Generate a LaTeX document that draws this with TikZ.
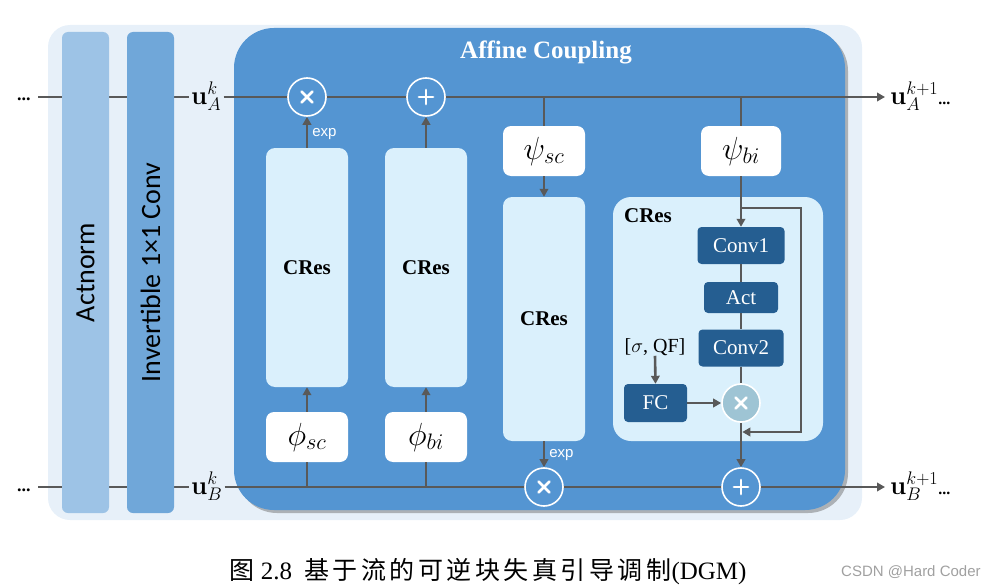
\RequirePackage{fix-cm}
\documentclass[tikz,border=0pt]{standalone}
\usepackage[no-math]{fontspec}
\setmainfont{Liberation Serif}
\newfontfamily\barfont{Carlito}
\newfontfamily\smallsans{Liberation Sans}
\newfontfamily\cjk[LetterSpace=14]{Noto Sans CJK SC}
\usetikzlibrary{arrows.meta,shadows}
\definecolor{panelbg}{HTML}{E7F0F9}
\definecolor{actc}{HTML}{9DC3E6}
\definecolor{invc}{HTML}{70A7D9}
\definecolor{affc}{HTML}{5495D2}
\definecolor{lightb}{HTML}{DAF0FC}
\definecolor{darkb}{HTML}{255E91}
\definecolor{lnc}{HTML}{595959}
\definecolor{smallc}{HTML}{9EC4D4}
\definecolor{wmc}{HTML}{A0A0A0}
\begin{document}
\begin{tikzpicture}[x=1pt,y=-1pt,
  line/.style={draw=lnc, line width=2.6pt},
  arr/.style={line, -{Triangle[length=8pt,width=8.5pt]}},
  bar/.style={rotate=90, rounded corners=6pt, inner sep=0, minimum width=481pt, minimum height=47pt,
    font=\barfont\fontsize{28}{30}\selectfont},
  lightbox/.style={fill=lightb, rounded corners=9pt, inner sep=0, minimum width=82pt,
    font=\bfseries\fontsize{21}{22}\selectfont},
  whitebox/.style={fill=white, rounded corners=8pt, inner sep=0, minimum width=82pt, minimum height=50pt,
    font=\fontsize{32}{34}\selectfont},
  darkbox/.style={fill=darkb, rounded corners=4pt, inner sep=0, text=white, font=\fontsize{21}{22}\selectfont},
  opbase/.style={circle, draw=white, line width=1.6pt, fill=affc, minimum size=38pt, inner sep=0},
  timesop/.style={opbase, path picture={\draw[white,line width=2.8pt,line cap=round]
      ([shift={(-5.5pt,-5.5pt)}]path picture bounding box.center) -- ([shift={(5.5pt,5.5pt)}]path picture bounding box.center)
      ([shift={(-5.5pt,5.5pt)}]path picture bounding box.center) -- ([shift={(5.5pt,-5.5pt)}]path picture bounding box.center);}},
  plusop/.style={opbase, path picture={\draw[white,line width=2.8pt,line cap=round]
      ([shift={(-7pt,0pt)}]path picture bounding box.center) -- ([shift={(7pt,0pt)}]path picture bounding box.center)
      ([shift={(0pt,-7pt)}]path picture bounding box.center) -- ([shift={(0pt,7pt)}]path picture bounding box.center);}},
  explabel/.style={text=white, font=\smallsans\fontsize{15}{16}\selectfont, inner sep=0},
  ulabel/.style={inner sep=0, font=\fontsize{26}{28}\selectfont},
]
\useasboundingbox (0,0) rectangle (997,586);
% background panel
\node[fill=panelbg, rounded corners=22pt, minimum width=814pt, minimum height=495pt, inner sep=0] (panel) at (455,272.5) {};
\coordinate (topy) at (0,97);
\coordinate (boty) at (0,487);
% left dots and labels
\node[anchor=base west, inner sep=0, font=\bfseries\fontsize{18}{18}\selectfont] (dA) at (17,101) {...};
\node[anchor=base west, inner sep=0, font=\bfseries\fontsize{18}{18}\selectfont] (dB) at (17,491) {...};
\node[ulabel, anchor=base west] (uA) at (191,104) {$\mathbf{u}_A^k$};
\node[ulabel, anchor=base west] (uB) at (191,494) {$\mathbf{u}_B^k$};
\coordinate (lA) at (38,97);
\coordinate (lB) at (38,487);
\draw[line] (lA) -- ([xshift=-2pt]uA.west |- topy);
\draw[line] (lB) -- ([xshift=-2pt]uB.west |- boty);
% bars
\node[bar, fill=actc] (actn) at (85.5,272.5) {Actnorm};
\node[bar, fill=invc] (inv) at (150.5,272.5) {Invertible 1\texttimes 1 Conv};
% affine coupling box
\node[fill=affc, rounded corners=40pt, minimum width=611pt, minimum height=482pt, inner sep=0,
  drop shadow={shadow xshift=3pt, shadow yshift=-3pt, opacity=0.45, fill=black!60}] (aff) at (539.5,269) {};
\node[text=white, font=\bfseries\fontsize{25}{26}\selectfont, inner sep=0] (title) at (546,52) {Affine Coupling};
% right labels
\node[ulabel, anchor=base west] (uA1) at (890,104) {$\mathbf{u}_A^{k+1}$\textbf{\fontsize{16}{16}\selectfont...}};
\node[ulabel, anchor=base west] (uB1) at (890,494) {$\mathbf{u}_B^{k+1}$\textbf{\fontsize{16}{16}\selectfont...}};
% main lines
\draw[arr] ([xshift=2pt]uA.east |- topy) -- ([xshift=-5pt]uA1.west |- topy);
\draw[arr] ([xshift=2pt]uB.east |- boty) -- ([xshift=-5pt]uB1.west |- boty);
% boxes
\node[lightbox, minimum height=239pt] (cres1) at (307,267.5) {CRes};
\node[lightbox, minimum height=239pt] (cres2) at (426,267.5) {CRes};
\node[whitebox] (phisc) at (307,437) {$\phi_{sc}$};
\node[whitebox] (phibi) at (426,437) {$\phi_{bi}$};
\node[whitebox] (psisc) at (544,151) {$\psi_{sc}$};
\node[whitebox, minimum width=80pt] (psibi) at (741,151) {$\psi_{bi}$};
\node[lightbox, minimum height=244pt] (cres3) at (544,319) {CRes};
\node[fill=lightb, rounded corners=18pt, minimum width=210pt, minimum height=244pt, inner sep=0] (crespanel) at (718,319) {};
\node[font=\bfseries\fontsize{21}{22}\selectfont, inner sep=0] (creslabel) at (648,216) {CRes};
\node[darkbox, minimum width=87pt, minimum height=37pt] (conv1) at (741,245.5) {Conv1};
\node[darkbox, minimum width=74pt, minimum height=31pt] (act) at (741,297.5) {Act};
\node[darkbox, minimum width=85pt, minimum height=37pt] (conv2) at (741,348) {Conv2};
\node[darkbox, minimum width=63pt, minimum height=38pt] (fc) at (655.5,403) {FC};
\node[inner sep=0, font=\fontsize{20}{22}\selectfont] (sig) at (655,347) {[$\sigma$, QF]};
% connectors
\draw[line] (phisc.south) -- (phisc.south |- boty);
\draw[line] (phibi.south) -- (phibi.south |- boty);
\draw[line] (psisc.north) -- (psisc.north |- topy);
\draw[line] (psibi.north) -- (psibi.north |- topy);
\draw[arr] (phisc.north) -- (cres1.south);
\draw[arr] (phibi.north) -- (cres2.south);
\draw[arr] (psisc.south) -- (cres3.north);
\draw[line] (conv1.south) -- (act.north);
\draw[line] (act.south) -- (conv2.north);
% operators
\node[timesop] (xA) at (307,97) {};
\node[plusop] (pA) at (426,97) {};
\node[timesop] (xB) at (544,487) {};
\node[plusop] (pB) at (741,487) {};
\node[circle, draw=white, line width=1.6pt, fill=smallc, minimum size=38pt, inner sep=0,
  path picture={\draw[white,line width=2.8pt,line cap=round]
      ([shift={(-5.5pt,-5.5pt)}]path picture bounding box.center) -- ([shift={(5.5pt,5.5pt)}]path picture bounding box.center)
      ([shift={(-5.5pt,5.5pt)}]path picture bounding box.center) -- ([shift={(5.5pt,-5.5pt)}]path picture bounding box.center);}] (xs) at (741,403) {};
\draw[line] (conv2.south) -- (xs.north);
\draw[arr] (cres1.north) -- (xA.south) node[explabel, pos=0.45, right=4pt] (exp1) {exp};
\draw[arr] (cres3.south) -- (xB.north) node[explabel, pos=0.55, right=4pt] (exp2) {exp};
\draw[arr] (cres2.north) -- (pA.south);
\draw[arr] (psibi.south) -- (conv1.north);
\draw[arr] (xs.south) -- (pB.north);
\draw[arr] (fc.east) -- (xs.west);
\draw[arr] (sig.south) -- (fc.north);
\coordinate (sk0) at (741,208);
\coordinate (sk1) at (801,208);
\coordinate (sk2) at (801,432);
\coordinate (sk3) at (742.3,432);
\draw[arr] (sk0) -- (sk1) -- (sk2) -- (sk3);
% caption
\node[anchor=base, inner sep=0, font=\fontsize{25}{27}\selectfont] (cap) at (488,579)
  {{\cjk 图}~2.8~~{\cjk 基于流的可逆块失真引导调制}(DGM)};
\node[anchor=base west, inner sep=0, text=wmc, font=\smallsans\fontsize{15}{16}\selectfont] (wm) at (841,576) {CSDN @Hard Coder};
\end{tikzpicture}
\end{document}
